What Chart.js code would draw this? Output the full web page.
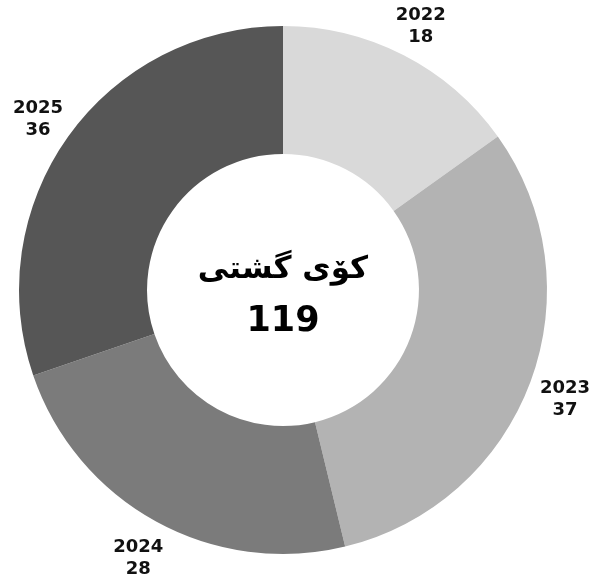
<!DOCTYPE html>
<html>
<head>
<meta charset="utf-8">
<script src="https://cdn.jsdelivr.net/npm/chart.js@4/dist/chart.umd.min.js"></script>
<style>
  html, body { margin: 0; padding: 0; background: #fff; }
  #wrap { width: 594px; height: 588px; }
</style>
</head>
<body>
<div id="wrap"><canvas id="chart"></canvas></div>
<script>
const years = ["2022", "2023", "2024", "2025"];
const counts = [18, 37, 28, 36];
const colors = ["#d9d9d9", "#b3b3b3", "#7b7b7b", "#565656"];
const totalLabel = "کۆی گشتی";

const total = counts.reduce((a, b) => a + b, 0);

// year + count written outside each slice
const outerLabels = {
    id: "outerLabels",
    afterDatasetsDraw(chart) {
        const ctx = chart.ctx;
        const meta = chart.getDatasetMeta(0);
        ctx.save();
        ctx.fillStyle = "#111";
        ctx.font = "bold 18px 'DejaVu Sans'";
        ctx.textAlign = "center";
        ctx.textBaseline = "middle";
        meta.data.forEach((arc, i) => {
            const mid = (arc.startAngle + arc.endAngle) / 2;
            const r = arc.outerRadius + 37;
            const x = arc.x + Math.cos(mid) * r;
            const y = arc.y + Math.sin(mid) * r + 4;
            ctx.fillText(years[i], x, y - 11);
            ctx.fillText(String(counts[i]), x, y + 11);
        });
        ctx.restore();
    }
};

const centerText = {
    id: "centerText",
    afterDraw(chart) {
        const ctx = chart.ctx;
        const arc = chart.getDatasetMeta(0).data[0];
        ctx.save();
        ctx.fillStyle = "#000";
        ctx.textAlign = "center";
        ctx.textBaseline = "middle";
        ctx.font = "bold 31px 'DejaVu Sans'";
        ctx.direction = "rtl";
        ctx.fillText(totalLabel, arc.x, arc.y - 20);
        ctx.direction = "ltr";
        ctx.font = "bold 35px 'DejaVu Sans'";
        ctx.fillText(String(total), arc.x, arc.y + 32);
        ctx.restore();
    }
};

new Chart(document.getElementById("chart"), {
    type: "doughnut",
    data: {
        labels: years,
        datasets: [{
            data: counts,
            backgroundColor: colors,
            borderWidth: 0
        }]
    },
    options: {
        responsive: true,
        maintainAspectRatio: false,
        animation: false,
        cutout: "51.5%",
        layout: { padding: { left: 19, right: 47, top: 26, bottom: 34 } },
        plugins: {
            legend: { display: false },
            tooltip: { enabled: false }
        }
    },
    plugins: [outerLabels, centerText]
});
</script>
</body>
</html>
